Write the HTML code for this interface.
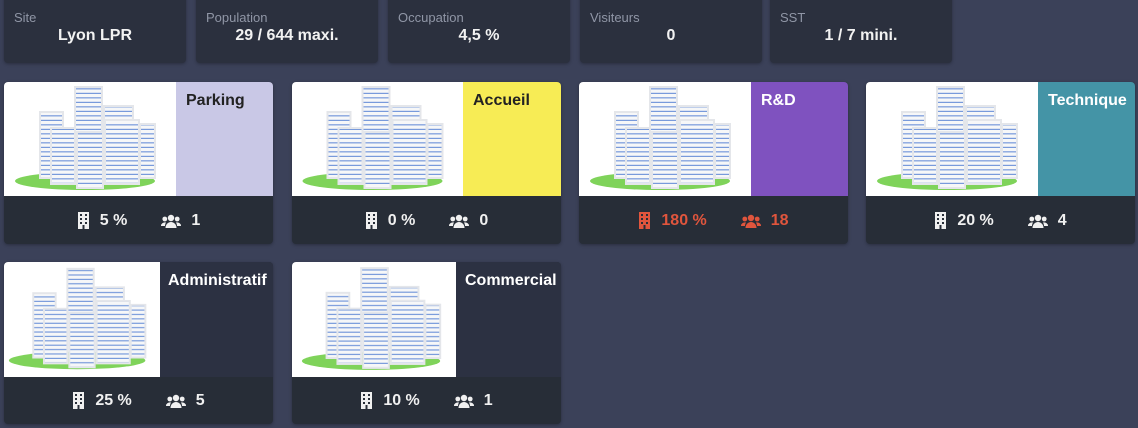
<!DOCTYPE html>
<html><head><meta charset="utf-8"><style>
*{margin:0;padding:0;box-sizing:border-box}
body{width:1138px;height:428px;background:#3b4159;font-family:"Liberation Sans",sans-serif;position:relative;overflow:hidden}
.top{position:absolute;top:-6px;height:69px;width:182px;background:#2b303e;border-radius:4px;box-shadow:0 1px 3px rgba(0,0,0,.3)}
.top .l{position:absolute;left:10px;top:16px;font-size:13px;color:#9096a6}
.top .v{position:absolute;left:0;right:0;top:33px;text-align:center;font-size:16px;font-weight:bold;color:#f2f2f2}
.tile{position:absolute;width:269px;background:#272d37;border-radius:4px;overflow:hidden;box-shadow:0 1px 3px rgba(0,0,0,.3)}
.img{position:absolute;left:0;top:0;background:#fff}
.img svg{width:100%;height:100%;display:block}
.pan{position:absolute;top:0;right:0}
.pan span{position:absolute;left:10px;top:10px;font-size:16px;font-weight:bold;white-space:nowrap}
.foot{position:absolute;left:0;right:0;bottom:0;height:47px;display:flex;justify-content:center;align-items:center;color:#f0f0f0;font-size:16px;font-weight:bold;gap:0}
.foot .ic{display:inline-block;vertical-align:middle;margin-right:10px}
.foot .g{margin-left:34px}
.red{color:#e0553d}
</style></head><body>
<svg width="0" height="0" style="position:absolute"><defs>
<pattern id="st" width="40" height="4.5" patternUnits="userSpaceOnUse"><rect width="40" height="4.5" fill="#f6f7f8"/><rect y="1.8" width="40" height="1.1" fill="#6a90d8"/></pattern>
<g id="bld">
<ellipse cx="80" cy="99" rx="70" ry="9" fill="#7fd35a"/>
<rect x="35" y="30" width="23" height="66" fill="url(#st)" stroke="#e4e6ea" stroke-width="2"/>
<rect x="70" y="5" width="27" height="50" fill="url(#st)" stroke="#e4e6ea" stroke-width="2"/>
<rect x="99" y="24" width="29" height="38" fill="url(#st)" stroke="#e4e6ea" stroke-width="2"/>
<rect x="135" y="42" width="15" height="54" fill="url(#st)" stroke="#e4e6ea" stroke-width="2"/>
<rect x="46" y="46" width="24" height="56" fill="url(#st)" stroke="#e4e6ea" stroke-width="2"/>
<rect x="72" y="50" width="26" height="56" fill="url(#st)" stroke="#e4e6ea" stroke-width="2"/>
<rect x="100" y="38" width="34" height="64" fill="url(#st)" stroke="#e4e6ea" stroke-width="2"/>
</g>
<g id="bi"><rect x="1" y="0" width="11" height="17" fill="currentColor"/><rect x="3" y="2" width="2" height="2" fill="#272d37"/><rect x="8" y="2" width="2" height="2" fill="#272d37"/><rect x="3" y="6" width="2" height="2" fill="#272d37"/><rect x="8" y="6" width="2" height="2" fill="#272d37"/><rect x="3" y="10" width="2" height="2" fill="#272d37"/><rect x="8" y="10" width="2" height="2" fill="#272d37"/><rect x="5.5" y="13" width="2" height="4" fill="#272d37"/></g>
<g id="pi" fill="currentColor"><circle cx="10" cy="4" r="3.2"/><circle cx="3.8" cy="5" r="2.4"/><circle cx="16.2" cy="5" r="2.4"/><path d="M4.5 14a5.5 6 0 0 1 11 0z"/><path d="M0 12a4 3.5 0 0 1 5-3.5 6 6 0 0 0-1 3.5z"/><path d="M20 12a4 3.5 0 0 0-5-3.5 6 6 0 0 1 1 3.5z"/></g>
</defs></svg>

<div class="top" style="left:4px"><div class="l">Site</div><div class="v">Lyon LPR</div></div>
<div class="top" style="left:196px"><div class="l">Population</div><div class="v">29 / 644 maxi.</div></div>
<div class="top" style="left:388px"><div class="l">Occupation</div><div class="v">4,5 %</div></div>
<div class="top" style="left:580px"><div class="l">Visiteurs</div><div class="v">0</div></div>
<div class="top" style="left:770px"><div class="l">SST</div><div class="v">1 / 7 mini.</div></div>

<div class="tile" style="left:4px;top:82px;height:162px">
<div class="img" style="width:172px;height:114px"><svg viewBox="0 0 170 114"><use href="#bld"/></svg></div>
<div class="pan" style="left:172px;height:114px;background:#c9c8e6"><span style="color:#222">Parking</span></div>
<div class="foot"><svg class="ic" width="13" height="17"><use href="#bi"/></svg>5 %<svg class="ic g" width="20" height="14"><use href="#pi"/></svg>1</div></div>

<div class="tile" style="left:292px;top:82px;height:162px">
<div class="img" style="width:171px;height:114px"><svg viewBox="0 0 170 114"><use href="#bld"/></svg></div>
<div class="pan" style="left:171px;height:114px;background:#f7ec55"><span style="color:#222">Accueil</span></div>
<div class="foot"><svg class="ic" width="13" height="17"><use href="#bi"/></svg>0 %<svg class="ic g" width="20" height="14"><use href="#pi"/></svg>0</div></div>

<div class="tile" style="left:579px;top:82px;height:162px">
<div class="img" style="width:172px;height:114px"><svg viewBox="0 0 170 114"><use href="#bld"/></svg></div>
<div class="pan" style="left:172px;height:114px;background:#7f52bf"><span style="color:#fff">R&amp;D</span></div>
<div class="foot red"><svg class="ic" width="13" height="17"><use href="#bi"/></svg>180 %<svg class="ic g" width="20" height="14"><use href="#pi"/></svg>18</div></div>

<div class="tile" style="left:866px;top:82px;height:162px">
<div class="img" style="width:172px;height:114px"><svg viewBox="0 0 170 114"><use href="#bld"/></svg></div>
<div class="pan" style="left:172px;height:114px;background:#4494a6"><span style="color:#fff">Technique</span></div>
<div class="foot"><svg class="ic" width="13" height="17"><use href="#bi"/></svg>20 %<svg class="ic g" width="20" height="14"><use href="#pi"/></svg>4</div></div>

<div class="tile" style="left:4px;top:262px;height:162px">
<div class="img" style="width:156px;height:115px"><svg viewBox="5 0 160 114"><use href="#bld"/></svg></div>
<div class="pan" style="left:156px;height:115px;background:#2c3142"><span style="color:#fff;left:8px">Administratif</span></div>
<div class="foot"><svg class="ic" width="13" height="17"><use href="#bi"/></svg>25 %<svg class="ic g" width="20" height="14"><use href="#pi"/></svg>5</div></div>

<div class="tile" style="left:292px;top:262px;height:162px">
<div class="img" style="width:164px;height:115px"><svg viewBox="0 0 166 114"><use href="#bld"/></svg></div>
<div class="pan" style="left:164px;height:115px;background:#2c3142"><span style="color:#fff;left:9px">Commercial</span></div>
<div class="foot"><svg class="ic" width="13" height="17"><use href="#bi"/></svg>10 %<svg class="ic g" width="20" height="14"><use href="#pi"/></svg>1</div></div>
</body></html>
